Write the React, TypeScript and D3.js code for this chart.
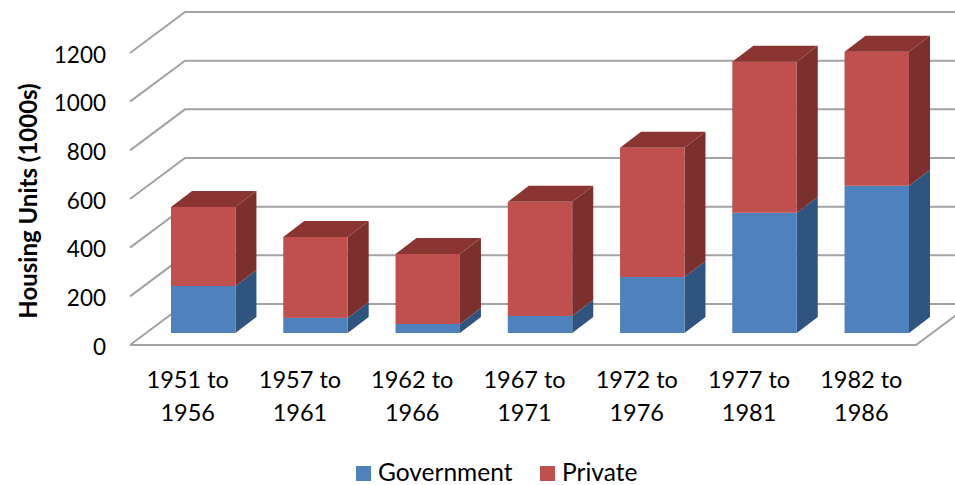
import React from "react";
import * as d3 from "d3";

// Housing completions by five-year period, in thousands of units
const periods = ["1951 to 1956", "1957 to 1961", "1962 to 1966", "1967 to 1971", "1972 to 1976", "1977 to 1981", "1982 to 1986"];
const government = [193, 62, 37, 70, 230, 494, 605];
const privateUnits = [325, 333, 288, 469, 531, 621, 551];
const valueTicks = [0, 200, 400, 600, 800, 1000, 1200];
const seriesNames = ["Government", "Private"];

const WIDTH = 955;
const HEIGHT = 485;
const FONT = "Lato, 'Open Sans', sans-serif";

// Each series: front, side and top face shades
const faces = [
  { front: "#4f81bd", side: "#2f5480", top: "#3a6699" },
  { front: "#c0504d", side: "#7b302e", top: "#8b3533" },
];

// Oblique projection of the chart box
const WALL_DX = 55;
const WALL_DY = -41;
const BAR_DX = 21;
const BAR_DY = -16;
const GRID = "#a3a3a3";

const yFront = d3.scaleLinear().domain([0, 1200]).range([345, 53]);
const yBar = d3.scaleLinear().domain([0, 1200]).range([333, 41]);
const xBand = d3.scaleBand<string>().domain(periods).range([171, 909]).paddingInner(0.426).paddingOuter(0);
const stacked = periods.map((_, i) => {
  const g = government[i];
  return [
    [0, g],
    [g, g + privateUnits[i]],
  ];
});

const poly = (pts: [number, number][]) => pts.map((p) => p.join(",")).join(" ");

export default function App() {
  const w = xBand.bandwidth();
  return (
    <svg width={WIDTH} height={HEIGHT} style={{ position: "absolute", left: 0, top: 0, background: "#fff" }} fontFamily={FONT}>
      {valueTicks.map((t) => {
        const y = yFront(t);
        const pts: [number, number][] = [
          [130, y],
          [130 + WALL_DX, y + WALL_DY],
          [WIDTH, y + WALL_DY],
        ];
        return <polyline key={t} points={poly(pts)} fill="none" stroke={GRID} strokeWidth={2} />;
      })}
      <polyline
        points={poly([
          [130, yFront(0)],
          [916, yFront(0)],
          [916 + WALL_DX, yFront(0) + WALL_DY],
        ])}
        fill="none"
        stroke={GRID}
        strokeWidth={2}
      />

      {periods.map((p, i) => {
        const x = xBand(p)!;
        return (
          <g key={p}>
            {stacked[i].map(([a, b], s) => {
              const y0 = yBar(a);
              const y1 = yBar(b);
              const c = faces[s];
              return (
                <g key={s}>
                  <polygon
                    points={poly([
                      [x + w, y0],
                      [x + w + BAR_DX, y0 + BAR_DY],
                      [x + w + BAR_DX, y1 + BAR_DY],
                      [x + w, y1],
                    ])}
                    fill={c.side}
                  />
                  <rect x={x} y={y1} width={w} height={y0 - y1} fill={c.front} />
                  {s === stacked[i].length - 1 && (
                    <polygon
                      points={poly([
                        [x, y1],
                        [x + BAR_DX, y1 + BAR_DY],
                        [x + w + BAR_DX, y1 + BAR_DY],
                        [x + w, y1],
                      ])}
                      fill={c.top}
                    />
                  )}
                </g>
              );
            })}
          </g>
        );
      })}

      {valueTicks.map((t) => (
        <text key={t} x={106} y={yFront(t) + 1.5} dy="0.36em" textAnchor="end" fontSize={22.5} fill="#000">
          {t}
        </text>
      ))}

      {periods.map((p) => {
        const cx = xBand(p)! + w / 2 - 15.5;
        const m = p.match(/^(.* to) (.*)$/)!;
        return (
          <text key={p} textAnchor="middle" fontSize={23.5} fill="#000">
            <tspan x={cx} y={388}>{m[1]}</tspan>
            <tspan x={cx} y={421}>{m[2]}</tspan>
          </text>
        );
      })}

      <text
        transform="translate(28,201) rotate(-90)"
        textAnchor="middle"
        dy="0.36em"
        fontSize={24}
        fontWeight={700}
        fill="#000"
      >
        Housing Units (1000s)
      </text>

      <rect x={356} y={466} width={15} height={15} fill={faces[0].front} />
      <text x={378} y={481} fontSize={24.5} fill="#000">{seriesNames[0]}</text>
      <rect x={540} y={466} width={15} height={15} fill={faces[1].front} />
      <text x={562} y={481} fontSize={24.5} fill="#000">{seriesNames[1]}</text>
    </svg>
  );
}
